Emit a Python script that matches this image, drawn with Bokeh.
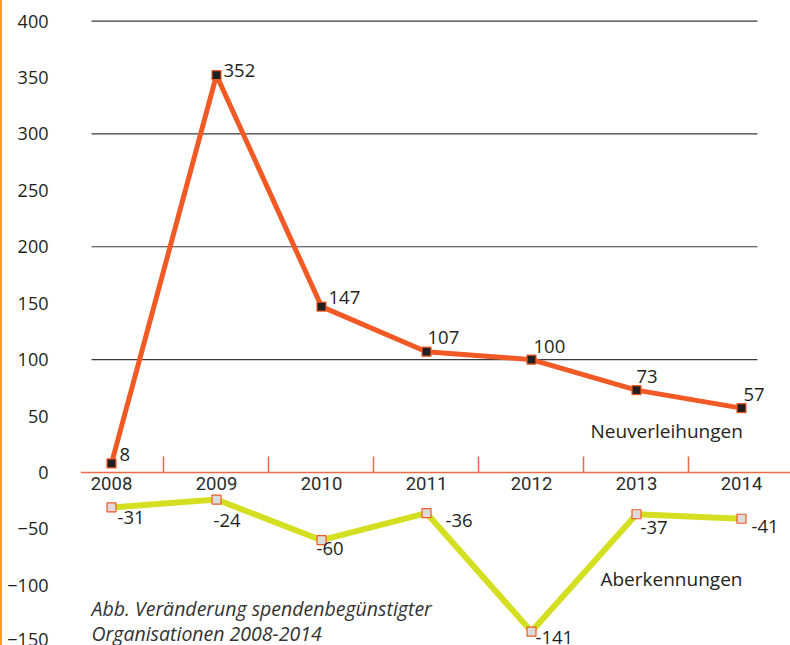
from bokeh.plotting import figure
from bokeh.models import FixedTicker, Range1d
from bokeh.core.properties import value
from bokeh.embed import file_html
from bokeh.resources import INLINE

# ---- data ----
years = ["2008", "2009", "2010", "2011", "2012", "2013", "2014"]
neuverleihungen = [8, 352, 147, 107, 100, 73, 57]
aberkennungen = [-31, -24, -60, -36, -141, -37, -41]
y_ticks = [-150, -100, -50, 0, 50, 100, 150, 200, 250, 300, 350, 400]
grid_levels = [100, 200, 300, 400]
series_names = ["Neuverleihungen", "Aberkennungen"]
caption = ["Abb. Veränderung spendenbegünstigter", "Organisationen 2008-2014"]

xs = list(range(len(years)))

# ---- styles ----
ORANGE = "#F15A24"
YELLOW = "#D5DF22"
TXT = "#231F20"
FONT = "Open Sans"
FS = "18.5px"

W, H = 790, 645
p = figure(width=W, height=H, output_backend="svg", toolbar_location=None,
           x_range=Range1d(-0.2952, 6.4667), y_range=Range1d(-153.3, 418.2),
           min_border_left=80, min_border_right=0, min_border_top=0, min_border_bottom=0)
p.styles = {"background": "linear-gradient(90deg, #F7A21B 0px, #F7A21B 2px, #FFFFFF 2px)"}
p.border_fill_color = None
p.background_fill_color = None
p.outline_line_color = None
p.xgrid.visible = False
p.ygrid.visible = False

# gridlines (partial width)
p.segment(x0=-0.19, x1=6.152, y0=grid_levels, y1=grid_levels, line_color="#3A3A3A", line_width=1.2)

# y axis
p.yaxis.ticker = FixedTicker(ticks=y_ticks)
p.yaxis.axis_line_color = None
p.yaxis.major_tick_line_color = None
p.yaxis.major_tick_out = 0
p.yaxis.major_tick_in = 0
p.yaxis.minor_tick_line_color = None
p.yaxis.minor_tick_out = 0
p.yaxis.major_label_standoff = 32
p.yaxis.major_label_text_font = FONT
p.yaxis.major_label_text_font_size = "18px"
p.yaxis.major_label_text_color = TXT

# x axis at y = 0
p.xaxis.fixed_location = 0
p.xaxis.ticker = FixedTicker(ticks=xs, minor_ticks=[i + 0.5 for i in range(len(years) - 1)])
p.xaxis.major_label_overrides = {i: y for i, y in enumerate(years)}
p.xaxis.axis_line_color = "#EE6A48"
p.xaxis.axis_line_width = 1.5
p.xaxis.major_tick_line_color = None
p.xaxis.major_tick_out = 0
p.xaxis.major_tick_in = 0
p.xaxis.minor_tick_line_color = "#EE6A48"
p.xaxis.minor_tick_line_width = 1.5
p.xaxis.minor_tick_in = 16
p.xaxis.minor_tick_out = 0
p.xaxis.major_label_standoff = 5
p.xaxis.major_label_text_font = "Roboto"
p.xaxis.major_label_text_font_size = "18.5px"
p.xaxis.major_label_text_color = "#2B2B2B"

# series
p.line(xs, aberkennungen, line_color=YELLOW, line_width=6)
p.scatter(xs, aberkennungen, marker="square", size=9, fill_color="#DCDCDC", line_color=ORANGE, line_width=1.2)
p.line(xs, neuverleihungen, line_color=ORANGE, line_width=5)
p.scatter(xs, neuverleihungen, marker="square", size=9, fill_color="#231F20", line_color=ORANGE, line_width=1.2)

# data labels (offsets in screen px)
neu_dx = [8, 7, 7, 1, 2, 0, 2]
neu_dy = [-9, -5, -9, -14, -13, -14, -14]
abe_dx = [6, -3, -5, 19, 4, 4, 10]
abe_dy = [10, 21, 8, 7, 6, 13, 8]
p.text(x=xs, y=neuverleihungen, text=[str(v) for v in neuverleihungen], x_offset=neu_dx, y_offset=neu_dy,
       text_font=value(FONT), text_font_size=FS, text_color=TXT, text_align="left", text_baseline="middle")
p.text(x=xs, y=aberkennungen, text=[str(v) for v in aberkennungen], x_offset=abe_dx, y_offset=abe_dy,
       text_font=value(FONT), text_font_size=FS, text_color=TXT, text_align="left", text_baseline="middle")

# series names
p.text(x=[4.562, 4.657], y=[37.2, -94.7], text=series_names, text_font=value(FONT), text_font_size="19px",
       text_color=TXT, text_align="left", text_baseline="middle")

# caption
p.text(x=[-0.19, -0.19], y=[-120.4, -142.5], text=caption, text_font=value(FONT), text_font_size="19.5px",
       text_font_style="italic", text_color="#333333", text_align="left", text_baseline="middle")

open("out.html", "w").write(file_html(p, INLINE))
